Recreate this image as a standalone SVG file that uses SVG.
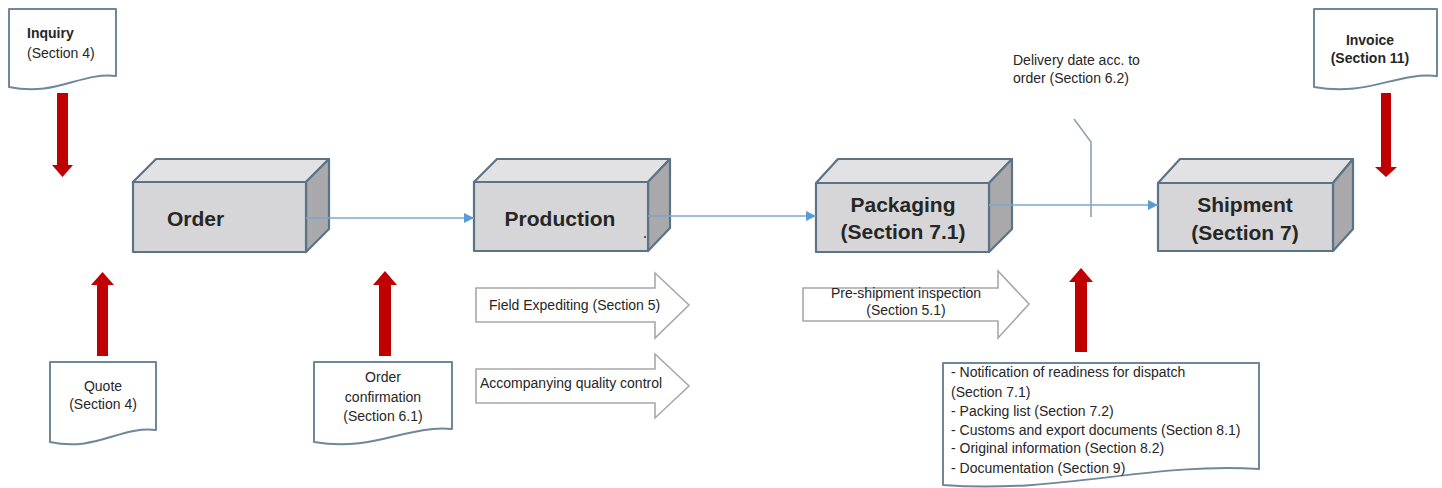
<svg xmlns="http://www.w3.org/2000/svg" width="1442" height="488" viewBox="0 0 1442 488">
<style>
  text { font-family: "Liberation Sans", Arial, sans-serif; fill: #262626; }
  .t { font-size: 14px; }
  .tb { font-size: 14px; font-weight: bold; }
  .box { font-size: 21px; font-weight: bold; }
  .front { fill: #d6d6d8; stroke: #5b7386; stroke-width: 2.2; stroke-linejoin: round; }
  .top { fill: #e2e2e5; stroke: #5b7386; stroke-width: 2.2; stroke-linejoin: round; }
  .side { fill: #a9a9ab; stroke: #5b7386; stroke-width: 2.2; stroke-linejoin: round; }
  .doc { fill: #ffffff; stroke: #6f8799; stroke-width: 2; stroke-linejoin: round; }
  .red { fill: #c00000; }
  .hollow { fill: #ffffff; stroke: #a8a8a8; stroke-width: 1.6; stroke-linejoin: miter; }
  .conn { fill: none; stroke: #7ea6c8; stroke-width: 1.6; }
  .dl { fill: none; stroke: #8ba3b5; stroke-width: 1.6; }
</style>
<defs>
  <marker id="ah" viewBox="0 0 10 10" refX="10" refY="5" markerWidth="10" markerHeight="10" markerUnits="userSpaceOnUse" orient="auto">
    <path d="M0,0 L10,5 L0,10 z" fill="#5b9bd5"/>
  </marker>
</defs>

<!-- Red arrows -->
<g id="red-arrows">
  <path class="red" d="M57,93 H68 V165 H73 L62.5,177 L52,165 H57 Z"/>
  <path class="red" d="M97,356 H108 V285 H114 L102.5,272 L91,285 H97 Z"/>
  <path class="red" d="M379,356 H391 V285 H397 L385,271 L373,285 H379 Z"/>
  <path class="red" d="M1075,352 H1087 V282 H1093 L1081,268 L1069,282 H1075 Z"/>
  <path class="red" d="M1381,93 H1391 V167 H1397 L1386,177 L1375,167 H1381 Z"/>
</g>

<!-- Boxes -->
<g id="order">
  <polygon class="top" points="133,182 156,159 329,159 306,182"/>
  <polygon class="side" points="306,182 329,159 329,229 306,252"/>
  <rect class="front" x="133" y="182" width="173" height="70"/>
  <text class="box" x="167" y="226">Order</text>
</g>
<g id="production">
  <polygon class="top" points="474,182 497,159 670,159 648,182"/>
  <polygon class="side" points="648,182 670,159 670,228 648,251"/>
  <rect class="front" x="474" y="182" width="174" height="69"/>
  <text class="box" x="560" y="226" text-anchor="middle">Production</text>
  <circle cx="645" cy="237" r="1" fill="#333"/>
</g>
<g id="packaging">
  <polygon class="top" points="816,183 838,159 1012,159 989,183"/>
  <polygon class="side" points="989,183 1012,159 1012,229 989,252"/>
  <rect class="front" x="816" y="183" width="173" height="69"/>
  <text class="box" x="903" y="212" text-anchor="middle">Packaging</text>
  <text class="box" x="903" y="239" text-anchor="middle">(Section 7.1)</text>
</g>
<g id="shipment">
  <polygon class="top" points="1158,183 1180,159 1353,159 1333,183"/>
  <polygon class="side" points="1333,183 1353,159 1353,229 1333,251"/>
  <rect class="front" x="1158" y="183" width="175" height="68"/>
  <text class="box" x="1245" y="212" text-anchor="middle">Shipment</text>
  <text class="box" x="1245" y="240" text-anchor="middle">(Section 7)</text>
</g>

<!-- Connectors -->
<g id="connectors">
  <line class="conn" x1="306" y1="218" x2="474" y2="218" marker-end="url(#ah)"/>
  <line class="conn" x1="648" y1="216" x2="816" y2="216" marker-end="url(#ah)"/>
  <line class="conn" x1="989" y1="205" x2="1158" y2="205" marker-end="url(#ah)"/>
  <polyline class="dl" points="1074,119 1091,142 1091,217"/>
</g>

<!-- Documents -->
<g id="inquiry">
  <path class="doc" d="M9,9 H116 V76 C80,72 56,97 9,87 Z"/>
  <text class="tb" x="27" y="38">Inquiry</text>
  <text class="t" x="27" y="58">(Section 4)</text>
</g>
<g id="invoice">
  <path class="doc" d="M1314,9 H1437 V76 C1395,72 1368,97 1314,87 Z"/>
  <text class="tb" x="1370" y="45" text-anchor="middle">Invoice</text>
  <text class="tb" x="1370" y="63" text-anchor="middle">(Section 11)</text>
</g>
<g id="quote">
  <path class="doc" d="M50,362 H156 V430 C120,426 96,452 50,442 Z"/>
  <text class="t" x="103" y="391" text-anchor="middle">Quote</text>
  <text class="t" x="103" y="409" text-anchor="middle">(Section 4)</text>
</g>
<g id="order-confirmation">
  <path class="doc" d="M314,362 H452 V429 C405,425 375,452 314,442 Z"/>
  <text class="t" x="383" y="382" text-anchor="middle">Order</text>
  <text class="t" x="383" y="402" text-anchor="middle">confirmation</text>
  <text class="t" x="383" y="421" text-anchor="middle">(Section 6.1)</text>
</g>
<g id="documents-list">
  <path class="doc" d="M943,363 H1259 V469 C1150,462 1060,494 943,485 Z"/>
  <text class="t" x="951" y="377" font-size="13.5">- Notification of readiness for dispatch</text>
  <text class="t" x="951" y="397" font-size="13.5">(Section 7.1)</text>
  <text class="t" x="951" y="416" font-size="13.5">- Packing list (Section 7.2)</text>
  <text class="t" x="951" y="435" font-size="13.5">- Customs and export documents (Section 8.1)</text>
  <text class="t" x="951" y="453" font-size="13.5">- Original information (Section 8.2)</text>
  <text class="t" x="951" y="473" font-size="13.5">- Documentation (Section 9)</text>
</g>

<!-- Hollow block arrows -->
<g id="field-expediting">
  <path class="hollow" d="M476,288 H655 V273 L689,305 L655,338 V322 H476 Z"/>
  <text class="t" x="489" y="310">Field Expediting (Section 5)</text>
</g>
<g id="quality-control">
  <path class="hollow" d="M476,369 H655 V354 L689,386 L655,418 V403 H476 Z"/>
  <text class="t" x="480" y="388">Accompanying quality control</text>
</g>
<g id="pre-shipment">
  <path class="hollow" d="M803,288 H998 V271 L1029,304 L998,338 V321 H803 Z"/>
  <text class="t" x="906" y="298" text-anchor="middle">Pre-shipment inspection</text>
  <text class="t" x="906" y="315" text-anchor="middle">(Section 5.1)</text>
</g>

<!-- Free label -->
<g id="delivery-date">
  <text class="t" x="1013" y="65" font-size="13.5">Delivery date acc. to</text>
  <text class="t" x="1013" y="83" font-size="13.5">order (Section 6.2)</text>
</g>
</svg>
